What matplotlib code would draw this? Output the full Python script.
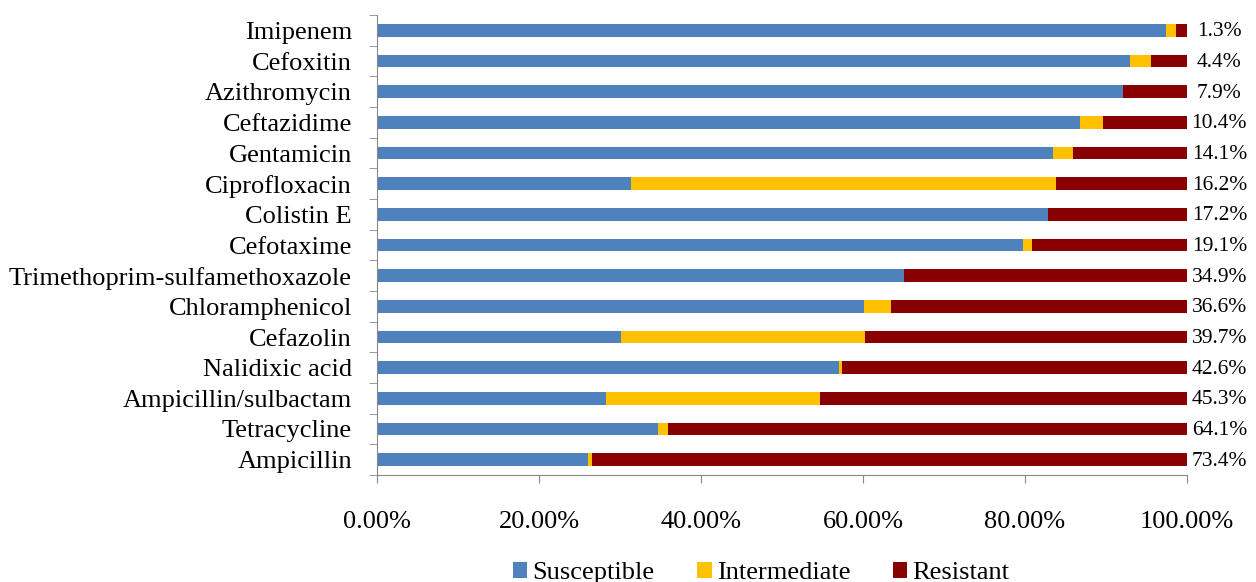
import matplotlib.pyplot as plt
import numpy as np
from matplotlib.ticker import FuncFormatter, FixedLocator

plt.rcParams['font.family'] = ['Liberation Serif', 'DejaVu Serif']

drugs = ['Imipenem', 'Cefoxitin', 'Azithromycin', 'Ceftazidime', 'Gentamicin',
         'Ciprofloxacin', 'Colistin E', 'Cefotaxime', 'Trimethoprim-sulfamethoxazole',
         'Chloramphenicol', 'Cefazolin', 'Nalidixic acid', 'Ampicillin/sulbactam',
         'Tetracycline', 'Ampicillin']
susceptible = [97.4, 93.0, 92.1, 86.8, 83.4, 31.3, 82.8, 79.8, 65.1,
               60.1, 30.1, 57.0, 28.3, 34.7, 26.0]
intermediate = [1.3, 2.6, 0.0, 2.8, 2.5, 52.5, 0.0, 1.1, 0.0,
                3.3, 30.2, 0.4, 26.4, 1.2, 0.6]
resistant = [1.3, 4.4, 7.9, 10.4, 14.1, 16.2, 17.2, 19.1, 34.9,
             36.6, 39.7, 42.6, 45.3, 64.1, 73.4]

S = np.array(susceptible) / 100
I = np.array(intermediate) / 100
R = np.array(resistant) / 100
y = np.arange(len(drugs))[::-1]

fig = plt.figure(figsize=(12.56, 5.82), dpi=100)
ax = fig.add_axes([377/1256, 1 - 475/582, 810/1256, 460/582])

h = 0.42
ax.barh(y, S, height=h, color='#4F81BD', label='Susceptible')
ax.barh(y, I, left=S, height=h, color='#FFC000', label='Intermediate')
ax.barh(y, R, left=S + I, height=h, color='#880000', label='Resistant')

# resistance percentage next to each bar
for yi, r in zip(y, resistant):
    ax.text(1.04, yi - 0.05, f'{r:.1f}%', ha='center', va='center', fontsize=15.5)

ax.set_xlim(0, 1)
ax.set_ylim(-0.5, len(drugs) - 0.5)
ax.set_xticks(np.arange(0, 1.01, 0.2))
ax.xaxis.set_major_formatter(FuncFormatter(lambda v, p: f'{v*100:.2f}%'))
ax.set_yticks(y)
ax.set_yticklabels(drugs)
ax.yaxis.set_minor_locator(FixedLocator(np.arange(-0.5, len(drugs), 1)))
ax.tick_params(axis='y', which='major', length=0, labelsize=19, pad=18)
ax.tick_params(axis='y', which='minor', length=6, color='#888888')
ax.tick_params(axis='x', length=6, color='#888888', labelsize=19, pad=20)

for side in ['top', 'right']:
    ax.spines[side].set_visible(False)
ax.spines['left'].set_color('#888888')
ax.spines['bottom'].set_color('#888888')

fig.legend(loc='lower center', bbox_to_anchor=(0.606, -0.045), ncol=3, frameon=False,
           fontsize=19, handlelength=0.55, handleheight=0.55, handletextpad=0.2,
           columnspacing=1.6)

fig.savefig('out.png', dpi=100)
